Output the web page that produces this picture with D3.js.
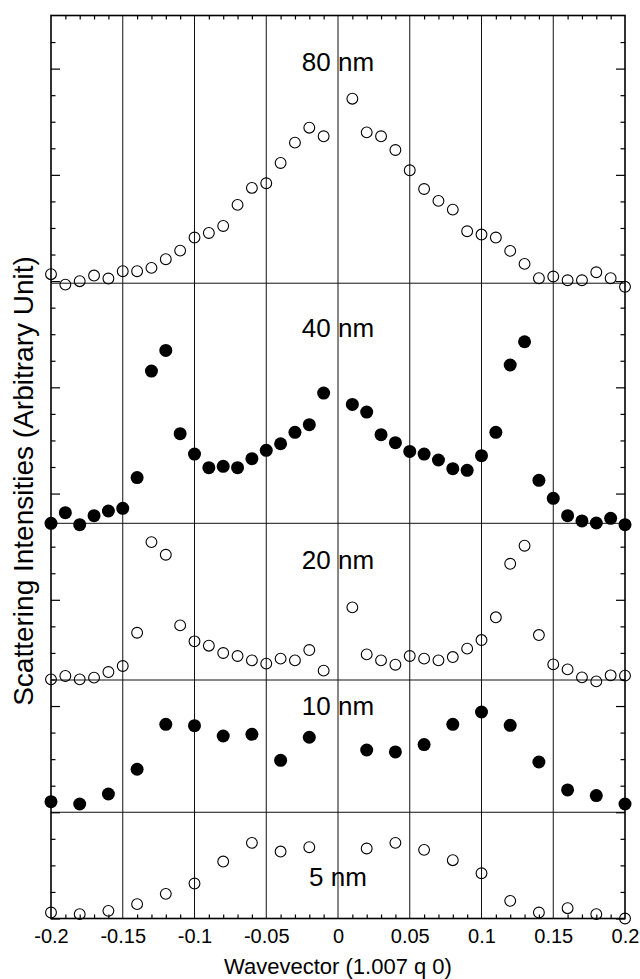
<!DOCTYPE html>
<html>
<head>
<meta charset="utf-8">
<script src="https://cdn.jsdelivr.net/npm/d3@7/dist/d3.min.js"></script>
<style>
  html, body { margin: 0; padding: 0; background: #fff; }
  svg { display: block; font-family: "Liberation Sans", Arial, Helvetica, sans-serif; }
</style>
</head>
<body>
<svg id="chart" width="640" height="979"></svg>
<script>
// Wavevector positions (units of 1.007 q 0)
const qFine = [-0.20,-0.19,-0.18,-0.17,-0.16,-0.15,-0.14,-0.13,-0.12,-0.11,
               -0.10,-0.09,-0.08,-0.07,-0.06,-0.05,-0.04,-0.03,-0.02,-0.01,
                0.01, 0.02, 0.03, 0.04, 0.05, 0.06, 0.07, 0.08, 0.09, 0.10,
                0.11, 0.12, 0.13, 0.14, 0.15, 0.16, 0.17, 0.18, 0.19, 0.20];
const qCoarse = [-0.20,-0.18,-0.16,-0.14,-0.12,-0.10,-0.08,-0.06,-0.04,-0.02,
                  0.02, 0.04, 0.06, 0.08, 0.10, 0.12, 0.14, 0.16, 0.18, 0.20];

// Scattering intensities, arbitrary units, relative to each film's baseline
const i80 = [0.085,-0.013,0.019,0.072,0.044,0.113,0.113,0.144,0.226,0.307,
             0.430,0.473,0.539,0.737,0.897,0.941,1.132,1.323,1.464,1.383,
             1.737,1.420,1.383,1.254,1.063,0.887,0.775,0.693,0.489,0.458,
             0.430,0.304,0.182,0.047,0.063,0.028,0.028,0.103,0.047,-0.034];
const i40 = [0.000,0.100,-0.013,0.072,0.116,0.141,0.430,1.433,1.627,0.844,
             0.652,0.524,0.536,0.524,0.608,0.687,0.749,0.856,0.928,1.226,
             1.119,1.047,0.834,0.759,0.677,0.652,0.596,0.514,0.499,0.637,
             0.856,1.490,1.709,0.405,0.235,0.072,0.022,0.003,0.047,-0.013];
const i20 = [0.006,0.038,0.006,0.022,0.075,0.132,0.445,1.298,1.179,0.514,
             0.364,0.323,0.254,0.226,0.185,0.154,0.201,0.185,0.282,0.088,
             0.684,0.241,0.185,0.144,0.226,0.201,0.185,0.216,0.295,0.376,
             0.590,1.094,1.264,0.423,0.147,0.100,0.025,-0.013,0.044,0.041];
const i10 = [0.100,0.078,0.172,0.405,0.828,0.815,0.718,0.734,0.489,0.706,
             0.586,0.568,0.637,0.828,0.944,0.818,0.473,0.210,0.157,0.078];
const i5  = [0.056,0.041,0.072,0.135,0.232,0.329,0.536,0.712,0.630,0.671,
             0.659,0.712,0.646,0.549,0.426,0.166,0.056,0.097,0.041,0.000];

// Film thickness labels and the vertical offset each trace is stacked at
const films     = ["80 nm", "40 nm", "20 nm", "10 nm", "5 nm"];
const baselines = [5.98, 3.72, 2.245, 1, 0];
const filled    = [false, true, false, true, false];

// Axis tick values and labels
const xTicks      = [-0.2,-0.15,-0.1,-0.05,0,0.05,0.1,0.15,0.2];
const xTickLabels = ["-0.2","-0.15","-0.1","-0.05","0","0.05","0.1","0.15","0.2"];
const xMinor = [-0.19,-0.18,-0.17,-0.16,-0.14,-0.13,-0.12,-0.11,-0.09,-0.08,-0.07,-0.06,
                -0.04,-0.03,-0.02,-0.01,0.01,0.02,0.03,0.04,0.06,0.07,0.08,0.09,
                0.11,0.12,0.13,0.14,0.16,0.17,0.18,0.19];
const yMajor = [0,1,2,3,4,5,6,7,8];
const yMinor = [0.25,0.5,0.75,1.25,1.5,1.75,2.25,2.5,2.75,3.25,3.5,3.75,4.25,4.5,4.75,
                5.25,5.5,5.75,6.25,6.5,6.75,7.25,7.5,7.75,8.25];

const series = [
  { q: qFine,   v: i80 },
  { q: qFine,   v: i40 },
  { q: qFine,   v: i20 },
  { q: qCoarse, v: i10 },
  { q: qCoarse, v: i5  }
];

// Layout
const plot = { left: 51, right: 625, top: 15.5, bottom: 918.5 };
const labelLift = [2.0, 1.75, 1.045, 0.915, 0.306]; // label baseline above trace baseline

const svg = d3.select("#chart");
const x = d3.scaleLinear().domain([-0.2, 0.2]).range([plot.left, plot.right]);
const y = d3.scaleLinear().domain([0, 8.5]).range([plot.bottom, plot.top]);

// vertical grid lines at the labelled wavevectors
svg.append("g").selectAll("line")
  .data(xTicks.slice(1, -1))
  .join("line")
  .attr("x1", d => x(d)).attr("x2", d => x(d))
  .attr("y1", plot.top).attr("y2", plot.bottom)
  .attr("stroke", "#111").attr("stroke-width", 1);

// baseline of each stacked trace
svg.append("g").selectAll("line")
  .data(baselines.filter(b => b > 0))
  .join("line")
  .attr("x1", plot.left).attr("x2", plot.right)
  .attr("y1", d => y(d)).attr("y2", d => y(d))
  .attr("stroke", "#111").attr("stroke-width", 1);

// axes: ticks point inward on all four sides
function styleAxis(g) {
  g.select(".domain").remove();
  g.selectAll(".tick line").attr("stroke", "#000").attr("stroke-width", 1.2);
}
svg.append("g").attr("transform", `translate(0,${plot.bottom})`)
  .call(d3.axisBottom(x).tickValues(xMinor).tickSize(-4).tickFormat(""))
  .call(styleAxis);
svg.append("g").attr("transform", `translate(0,${plot.top})`)
  .call(d3.axisTop(x).tickValues(xMinor).tickSize(-4).tickFormat(""))
  .call(styleAxis);
const bottomMajor = svg.append("g").attr("transform", `translate(0,${plot.bottom})`)
  .call(d3.axisBottom(x).tickValues(xTicks).tickSize(0).tickPadding(24)
        .tickFormat((d, i) => xTickLabels[i]))
  .call(styleAxis);
bottomMajor.selectAll("text")
  .attr("font-size", 20).attr("fill", "#000")
  .attr("font-family", "Liberation Sans, Arial, sans-serif")
  .attr("dy", 0);

svg.append("g").attr("transform", `translate(${plot.left},0)`)
  .call(d3.axisLeft(y).tickValues(yMajor).tickSize(-9).tickFormat(""))
  .call(styleAxis);
svg.append("g").attr("transform", `translate(${plot.left},0)`)
  .call(d3.axisLeft(y).tickValues(yMinor).tickSize(-4.5).tickFormat(""))
  .call(styleAxis);
svg.append("g").attr("transform", `translate(${plot.right},0)`)
  .call(d3.axisRight(y).tickValues(yMajor).tickSize(-9).tickFormat(""))
  .call(styleAxis);
svg.append("g").attr("transform", `translate(${plot.right},0)`)
  .call(d3.axisRight(y).tickValues(yMinor).tickSize(-4.5).tickFormat(""))
  .call(styleAxis);

// frame
svg.append("rect")
  .attr("x", plot.left).attr("y", plot.top)
  .attr("width", plot.right - plot.left).attr("height", plot.bottom - plot.top)
  .attr("fill", "none").attr("stroke", "#000").attr("stroke-width", 1.6);

// data markers
series.forEach((s, k) => {
  const pts = s.q.map((q, i) => ({ q, v: s.v[i] + baselines[k] }));
  svg.append("g").selectAll("circle")
    .data(pts)
    .join("circle")
    .attr("cx", d => x(d.q))
    .attr("cy", d => y(d.v))
    .attr("r", filled[k] ? 6.5 : 5.4)
    .attr("fill", filled[k] ? "#000" : "none")
    .attr("stroke", "#000")
    .attr("stroke-width", filled[k] ? 0 : 1.1);
});

// film labels
svg.append("g").selectAll("text")
  .data(films)
  .join("text")
  .attr("x", x(0))
  .attr("y", (d, k) => y(baselines[k] + labelLift[k]))
  .attr("text-anchor", "middle")
  .attr("font-size", 26)
  .attr("fill", "#000")
  .text(d => d);

// axis titles
svg.append("text")
  .attr("x", x(0)).attr("y", 974)
  .attr("text-anchor", "middle")
  .attr("font-size", 22).attr("fill", "#000")
  .text("Wavevector (1.007 q 0)");

svg.append("text")
  .attr("transform", `translate(33,481) rotate(-90)`)
  .attr("text-anchor", "middle")
  .attr("font-size", 28).attr("fill", "#000")
  .text("Scattering Intensities (Arbitrary Unit)");
</script>
</body>
</html>
